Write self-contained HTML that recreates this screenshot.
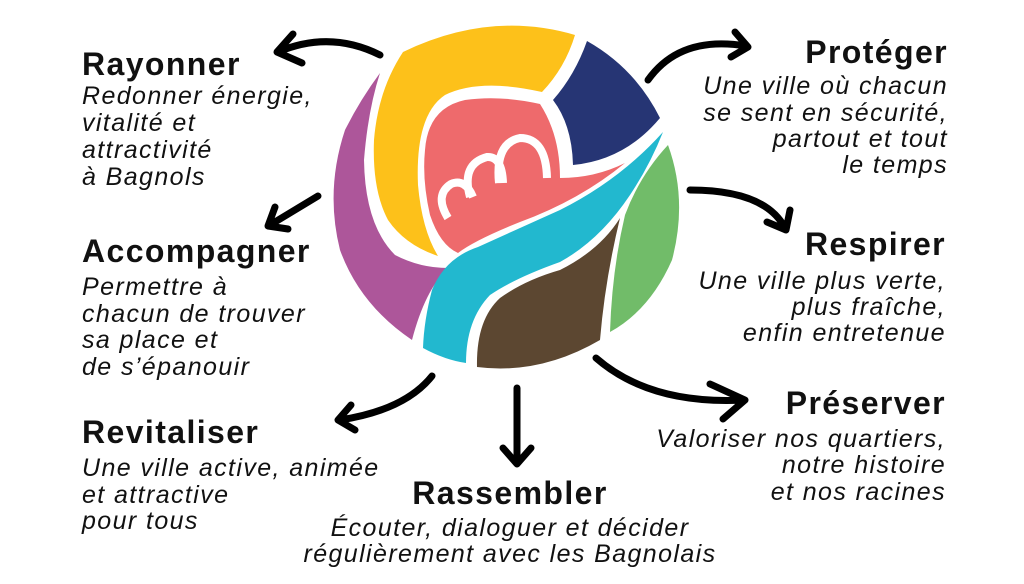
<!DOCTYPE html>
<html><head><meta charset="utf-8"><style>
html,body{margin:0;padding:0;background:#fff;}
svg{display:block}
.t{font-family:"Liberation Sans",sans-serif;font-weight:bold;font-size:32px;letter-spacing:1.4px;fill:#111}
.b{font-family:"Liberation Sans",sans-serif;font-style:italic;font-size:25px;letter-spacing:1.4px;fill:#111}
.a{fill:none;stroke:#000;stroke-width:7;stroke-linecap:round;stroke-linejoin:round}
</style></head><body>
<svg width="1024" height="584" viewBox="0 0 1024 584" xmlns="http://www.w3.org/2000/svg">
<path fill="#FDC11A" d="M403,52 Q490,10 575,35 Q565,68 542,92 Q480,78 445,95 Q415,115 418,185 Q422,230 438,256 Q405,245 388,220 Q372,190 374,140 Q378,90 403,52 Z"/>
<path fill="#AD569A" d="M380,73 Q368,110 364,160 Q365,225 395,255 Q420,268 448,268 Q425,290 412,340 Q360,305 340,250 Q325,190 345,130 Q360,100 380,73 Z"/>
<path fill="#263574" d="M587,41 Q635,68 660,118 Q625,160 573,165 Q572,125 553,100 Q575,75 587,41 Z"/>
<path fill="#EE6A6C" d="M540,104 Q560,135 560,178 Q595,178 625,163 Q580,200 520,222 Q475,240 458,253 Q440,245 430,215 Q422,180 425,150 Q428,108 465,100 Q500,95 540,104 Z"/>
<path fill="#22B8CF" d="M663,132 Q620,180 560,210 Q500,237 478,247 Q445,258 432,290 Q424,320 423,348 Q445,360 466,363 Q466,320 490,295 Q515,278 560,262 Q600,240 630,195 Q650,165 663,132 Z"/>
<path fill="#5C4731" d="M620,218 Q605,280 600,340 Q540,375 477,367 Q476,320 500,298 Q525,280 560,270 Q600,250 620,218 Z"/>
<path fill="#71BC69" d="M668,145 Q688,200 672,260 Q650,310 610,332 Q612,270 625,215 Q640,175 668,145 Z"/>
<path fill="none" stroke="#fff" stroke-width="8" d="M448,218 Q434,195 451,184 Q465,178 473,197 M470,197 Q461,164 487,157 Q502,156 503,183 M499,183 Q495,143 520,138 Q546,138 547,178"/>
<path class="a" d="M380,55 Q330,30 278,52 M293,34 L277,52 L302,63"/>
<path class="a" d="M318,196 L270,225 M275,207 L268,226 L288,229"/>
<path class="a" d="M432,376 Q405,410 340,420 M351,405 L338,420 L355,430"/>
<path class="a" d="M517,388 L517,462 M503,448 L517,464 L531,448"/>
<path class="a" d="M596,358 Q650,405 744,400 M710,384 L745,400 L723,419"/>
<path class="a" d="M690,190 Q765,190 785,228 M790,210 L786,230 L767,222"/>
<path class="a" d="M648,80 Q680,35 746,46 M735,32 L748,47 L731,57"/>

<text class="t" x="82" y="75">Rayonner</text>
<text class="b" x="82" y="104">Redonner énergie,</text>
<text class="b" x="82" y="131">vitalité et</text>
<text class="b" x="82" y="158">attractivité</text>
<text class="b" x="82" y="185">à Bagnols</text>

<text class="t" x="82" y="262">Accompagner</text>
<text class="b" x="82" y="295">Permettre à</text>
<text class="b" x="82" y="322">chacun de trouver</text>
<text class="b" x="82" y="348">sa place et</text>
<text class="b" x="82" y="375">de s’épanouir</text>

<text class="t" x="82" y="443">Revitaliser</text>
<text class="b" x="82" y="476">Une ville active, animée</text>
<text class="b" x="82" y="503">et attractive</text>
<text class="b" x="82" y="529">pour tous</text>

<text class="t" x="510" y="504" text-anchor="middle">Rassembler</text>
<text class="b" x="510" y="536" text-anchor="middle">Écouter, dialoguer et décider</text>
<text class="b" x="510" y="562" text-anchor="middle">régulièrement avec les Bagnolais</text>

<text class="t" x="948" y="63" text-anchor="end">Protéger</text>
<text class="b" x="948" y="94" text-anchor="end">Une ville où chacun</text>
<text class="b" x="948" y="121" text-anchor="end">se sent en sécurité,</text>
<text class="b" x="948" y="147" text-anchor="end">partout et tout</text>
<text class="b" x="948" y="173" text-anchor="end">le temps</text>

<text class="t" x="946" y="255" text-anchor="end">Respirer</text>
<text class="b" x="946" y="289" text-anchor="end">Une ville plus verte,</text>
<text class="b" x="946" y="315" text-anchor="end">plus fraîche,</text>
<text class="b" x="946" y="341" text-anchor="end">enfin entretenue</text>

<text class="t" x="946" y="414" text-anchor="end">Préserver</text>
<text class="b" x="946" y="447" text-anchor="end">Valoriser nos quartiers,</text>
<text class="b" x="946" y="473" text-anchor="end">notre histoire</text>
<text class="b" x="946" y="500" text-anchor="end">et nos racines</text>
</svg>
</body></html>
